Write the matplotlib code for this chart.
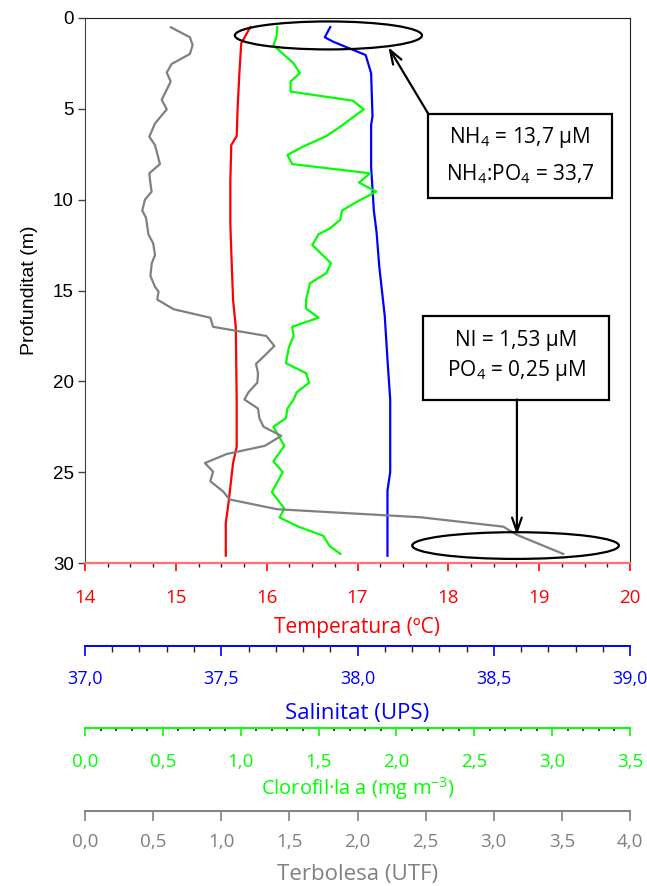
import matplotlib
matplotlib.use("Agg")
import matplotlib.pyplot as plt
from matplotlib.patches import Ellipse, Rectangle
from matplotlib.ticker import MultipleLocator, FuncFormatter

# ---------------- data ----------------
temp_depth = [0.5, 1.4, 3.0, 5.0, 6.5, 7.0, 9.0, 11.3, 12.8, 15.5, 17.0, 21.0, 23.6, 24.5, 26.7, 27.8, 29.6]
temp = [15.82, 15.72, 15.70, 15.68, 15.67, 15.61, 15.60, 15.60, 15.61, 15.63, 15.66, 15.67, 15.67, 15.63, 15.58, 15.55, 15.55]

sal_depth = [0.5, 1.06, 1.3, 2.04, 3.04, 5.4, 5.9, 7.1, 8.2, 10.6, 11.8, 13.7, 16.4, 18.8, 21.0, 24.1, 25.0, 26.0, 27.4, 29.6]
sal = [37.90, 37.88, 37.91, 38.03, 38.05, 38.055, 38.05, 38.05, 38.05, 38.06, 38.07, 38.08, 38.10, 38.11, 38.12, 38.12, 38.12, 38.11, 38.11, 38.11]

chl_depth = [0.5, 1.03, 1.5, 2.5, 3.04, 3.5, 4.05, 4.55, 5.03, 5.98, 6.5, 7.08, 7.54, 8.04, 8.55, 9.06, 9.56,
             10.1, 10.6, 11.1, 11.6, 11.9, 12.5, 13.5, 14.05, 14.6, 15.5, 16.0, 16.5, 17.0, 17.5, 18.1, 19.0,
             19.55, 20.07, 20.6, 21.0, 21.5, 22.03, 22.5, 22.95, 23.55, 24.4, 25.0, 26.1, 27.0, 27.5, 28.0,
             28.5, 29.06, 29.5]
chl = [1.235, 1.23, 1.21, 1.34, 1.38, 1.32, 1.32, 1.72, 1.79, 1.64, 1.55, 1.40, 1.30, 1.33, 1.83, 1.76, 1.87,
       1.75, 1.65, 1.64, 1.57, 1.50, 1.46, 1.58, 1.55, 1.445, 1.42, 1.42, 1.50, 1.33, 1.34, 1.31, 1.29,
       1.42, 1.44, 1.36, 1.34, 1.30, 1.29, 1.21, 1.24, 1.28, 1.21, 1.27, 1.20, 1.28, 1.25, 1.37,
       1.53, 1.57, 1.64]

tur_depth = [0.51, 1.06, 1.49, 1.98, 2.53, 3.0, 3.5, 4.5, 5.03, 5.8, 6.53, 7.0, 8.04, 8.55, 9.1, 9.56, 10.0,
             10.6, 11.0, 11.9, 12.4, 13.04, 13.5, 14.2, 14.8, 15.06, 15.5, 16.03, 16.5, 17.0, 17.5, 18.05,
             18.5, 19.04, 19.55, 20.07, 20.6, 21.0, 21.5, 22.03, 22.5, 23.0, 23.55, 24.0, 24.5, 24.97, 25.5,
             26.07, 26.5, 27.04, 27.48, 28.0, 28.45, 29.5]
tur = [0.63, 0.77, 0.79, 0.77, 0.636, 0.60, 0.629, 0.563, 0.60, 0.514, 0.472, 0.514, 0.55, 0.472, 0.48, 0.489, 0.44,
       0.42, 0.448, 0.465, 0.50, 0.514, 0.49, 0.48, 0.514, 0.54, 0.53, 0.65, 0.92, 0.94, 1.33, 1.39,
       1.33, 1.255, 1.27, 1.265, 1.20, 1.17, 1.27, 1.28, 1.31, 1.44, 1.32, 1.04, 0.88, 0.94, 0.92,
       1.015, 1.06, 1.41, 2.46, 3.07, 3.17, 3.51]

depth_ticks = [0, 5, 10, 15, 20, 25, 30]
temp_ticks = [14, 15, 16, 17, 18, 19, 20]
sal_ticks = [37.0, 37.5, 38.0, 38.5, 39.0]
chl_ticks = [0.0, 0.5, 1.0, 1.5, 2.0, 2.5, 3.0, 3.5]
tur_ticks = [0.0, 0.5, 1.0, 1.5, 2.0, 2.5, 3.0, 3.5, 4.0]

note_top = ["NH$_4$ = 13,7 µM", "NH$_4$:PO$_4$ = 33,7"]
note_bottom = ["NI = 1,53 µM", "PO$_4$ = 0,25 µM"]

# ---------------- style ----------------
plt.rcParams['font.family'] = ['Open Sans', 'DejaVu Sans']
plt.rcParams['mathtext.fontset'] = 'custom'
plt.rcParams['mathtext.rm'] = 'Open Sans'
plt.rcParams['mathtext.it'] = 'Open Sans:italic'
plt.rcParams['mathtext.bf'] = 'Open Sans:bold'

RED = '#FF0000'
BLUE = '#0000FF'
GREEN = '#00FF00'
GRAY = '#808080'
PX = 72 / 100.0  # points per pixel

comma1 = FuncFormatter(lambda v, p: f"{v:.1f}".replace('.', ','))

fig = plt.figure(figsize=(6.47, 8.86), dpi=100)
ax = fig.add_axes([85 / 647, 1 - 563 / 886, 545 / 647, 545 / 886])

# temperature (main axis)
ax.plot(temp, temp_depth, color=RED, lw=1.6, zorder=3)
ax.set_xlim(14, 20)
ax.set_ylim(30, 0)
ax.set_yticks(depth_ticks)
ax.set_xticks(temp_ticks)
ax.xaxis.set_minor_locator(MultipleLocator(0.25))
ax.tick_params(axis='y', which='major', direction='out', length=5, width=1, color='#404040',
               labelsize=13.5, pad=3, labelcolor='black')
for lab in ax.get_yticklabels():
    lab.set_family('Liberation Sans')
ax.tick_params(axis='x', which='major', direction='out', length=6, width=1.2, color=RED,
               labelcolor=RED, labelsize=13.5, pad=13)
ax.tick_params(axis='x', which='minor', direction='out', length=3, width=1, color='#222222')
ax.set_ylabel('Profunditat (m)', family='Liberation Sans', fontsize=14, labelpad=11)
ax.set_xlabel('Temperatura (ºC)', color=RED, fontsize=15, labelpad=7)
ax.spines['bottom'].set_color('#FF7070')
ax.spines['bottom'].set_linewidth(1.6)
ax.spines['left'].set_color('#404040')
ax.spines['top'].set_color('#202020')
ax.spines['right'].set_color('#202020')
ax.patch.set_visible(False)


def extra_axis(offset_px, xlim, line_color):
    a = ax.twiny()
    a.set_xlim(*xlim)
    a.xaxis.set_ticks_position('bottom')
    a.xaxis.set_label_position('bottom')
    a.spines['bottom'].set_position(('outward', offset_px * PX))
    a.spines['bottom'].set_color(line_color)
    a.spines['bottom'].set_linewidth(1.4)
    for s in ['top', 'left', 'right']:
        a.spines[s].set_visible(False)
    a.patch.set_visible(False)
    return a


# salinity
ax_s = extra_axis(646 - 563, (37, 39), BLUE)
ax_s.plot(sal, sal_depth, color=BLUE, lw=1.6, zorder=3)
ax_s.set_xticks(sal_ticks)
ax_s.xaxis.set_major_formatter(comma1)
ax_s.xaxis.set_minor_locator(MultipleLocator(0.1))
ax_s.tick_params(axis='x', which='major', direction='out', length=7, width=1.2, color=BLUE,
                 labelcolor=BLUE, labelsize=13, pad=10)
ax_s.tick_params(axis='x', which='minor', direction='out', length=4, width=1, color='#222222')
ax_s.set_xlabel('Salinitat (UPS)', color=BLUE, fontsize=16, labelpad=11)

# chlorophyll
ax_c = extra_axis(728 - 563, (0, 3.5), GREEN)
ax_c.plot(chl, chl_depth, color=GREEN, lw=1.6, zorder=3)
ax_c.set_xticks(chl_ticks)
ax_c.xaxis.set_major_formatter(comma1)
ax_c.xaxis.set_minor_locator(MultipleLocator(0.1))
ax_c.tick_params(axis='x', which='major', direction='out', length=6, width=1.2, color=GREEN,
                 labelcolor=GREEN, labelsize=13.5, pad=12)
ax_c.tick_params(axis='x', which='minor', direction='out', length=2, width=1.2, color='#222222')
ax_c.set_xlabel('Clorofil·la a (mg m$^{-3}$)', color=GREEN, fontsize=14.5, labelpad=3)

# turbidity
ax_t = extra_axis(811 - 563, (0, 4), GRAY)
ax_t.plot(tur, tur_depth, color=GRAY, lw=1.6, zorder=3)
ax_t.set_xticks(tur_ticks)
ax_t.xaxis.set_major_formatter(comma1)
ax_t.tick_params(axis='x', which='major', direction='out', length=7, width=1.2, color=GRAY,
                 labelcolor=GRAY, labelsize=13.5, pad=9)
ax_t.set_xlabel('Terbolesa (UTF)', color=GRAY, fontsize=16, labelpad=9)

# ---------------- annotations (temperature/depth coordinates) ----------------
T = ax.transData
ax_t.add_patch(Ellipse((16.68, 0.96), 2.06, 1.54, transform=T, fill=False, lw=1.6,
                       ec='black', zorder=5, clip_on=False))
ax_t.add_patch(Ellipse((18.74, 29.04), 2.275, 1.47, transform=T, fill=False, lw=1.6,
                       ec='black', zorder=5, clip_on=False))
ax_t.add_patch(Rectangle((17.78, 5.28), 2.02, 4.62, transform=T, fill=True, fc='white', lw=1.6,
                         ec='black', zorder=6))
ax_t.add_patch(Rectangle((17.72, 16.4), 2.05, 4.6, transform=T, fill=True, fc='white', lw=1.6,
                         ec='black', zorder=6))
ax_t.text(18.79, 6.6, note_top[0], transform=T, ha='center', va='center', fontsize=15, zorder=7)
ax_t.text(18.79, 8.6, note_top[1], transform=T, ha='center', va='center', fontsize=15, zorder=7)
ax_t.text(18.745, 17.75, note_bottom[0], transform=T, ha='center', va='center', fontsize=15, zorder=7)
ax_t.text(18.745, 19.4, note_bottom[1], transform=T, ha='center', va='center', fontsize=15, zorder=7)
ax_t.annotate('', xy=(17.34, 1.61), xytext=(17.78, 5.28), xycoords=T, textcoords=T,
              arrowprops=dict(arrowstyle='->,head_length=1.0,head_width=0.35', lw=1.6, color='black',
                              shrinkA=0, shrinkB=0), zorder=6)
ax_t.annotate('', xy=(18.755, 28.45), xytext=(18.755, 21.0), xycoords=T, textcoords=T,
              arrowprops=dict(arrowstyle='->,head_length=1.0,head_width=0.35', lw=1.6, color='black',
                              shrinkA=0, shrinkB=0), zorder=6)

fig.savefig('out.png', dpi=100)
